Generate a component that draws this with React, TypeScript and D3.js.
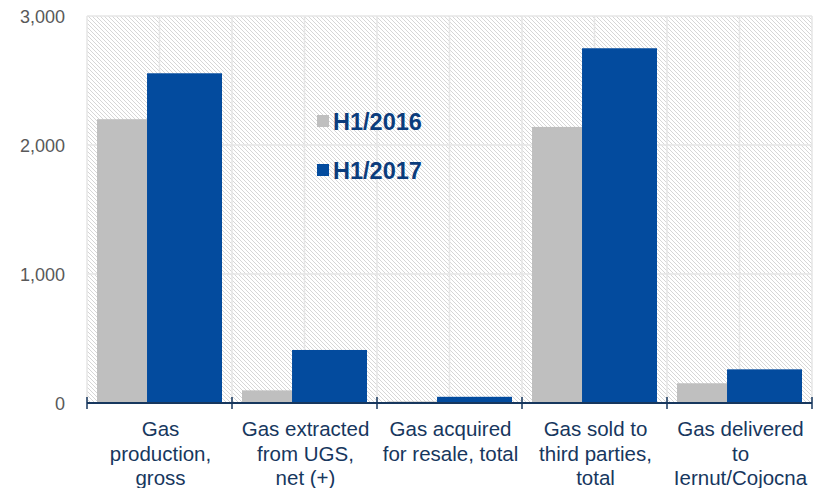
import React, { useEffect, useRef } from "react";
import * as d3 from "d3";

const categories = [
	["Gas", "production,", "gross"],
	["Gas extracted", "from UGS,", "net (+)"],
	["Gas acquired", "for resale, total"],
	["Gas sold to", "third parties,", "total"],
	["Gas delivered", "to", "Iernut/Cojocna"],
];
const h1_2016 = [2200, 98, 12, 2140, 153];
const h1_2017 = [2556, 411, 48, 2750, 261];
const seriesNames = ["H1/2016", "H1/2017"];
const seriesColors = ["#bfbfbf", "#034b9e"];
const yTicks = [0, 1000, 2000, 3000];

export default function App() {
	const ref = useRef<SVGSVGElement>(null);

	useEffect(() => {
		const left = 87;
		const right = 812;
		const top = 16;
		const bottom = 403;
		const font = "Liberation Sans, Arial, sans-serif";

		const svg = d3.select(ref.current);
		svg.selectAll("*").remove();

		// hatch pattern for plot background
		const pat = svg
			.append("defs")
			.append("pattern")
			.attr("id", "hatch")
			.attr("patternUnits", "userSpaceOnUse")
			.attr("width", 4)
			.attr("height", 4);
		pat
			.append("path")
			.attr("d", "M-1,-1 L5,5 M-1,3 L1,5 M3,-1 L5,1")
			.attr("stroke", "#d6d6d6")
			.attr("stroke-width", 1);

		const x = d3
			.scaleBand()
			.domain(categories.map((_, i) => String(i)))
			.range([left, right]);

		const y = d3.scaleLinear().domain([0, 3000]).range([bottom, top]);

		svg
			.append("rect")
			.attr("x", left)
			.attr("y", top)
			.attr("width", right - left)
			.attr("height", bottom - top)
			.attr("fill", "url(#hatch)");

		// gridlines
		svg
			.append("g")
			.selectAll("line")
			.data(yTicks.slice(1))
			.join("line")
			.attr("x1", left)
			.attr("x2", right)
			.attr("y1", d => y(d))
			.attr("y2", d => y(d))
			.attr("stroke", "#e6e6e6")
			.attr("stroke-width", 1.5);

		const vx: number[] = [];
		categories.forEach((_, i) => {
			const x0 = x(String(i))!;
			vx.push(x0, x0 + x.bandwidth() / 2);
		});
		vx.push(right);
		svg
			.append("g")
			.selectAll("line")
			.data(vx)
			.join("line")
			.attr("x1", d => d)
			.attr("x2", d => d)
			.attr("y1", top)
			.attr("y2", bottom)
			.attr("stroke", "#e6e6e6")
			.attr("stroke-width", 1.5);

		// bars (overlapping pairs)
		const bw = x.bandwidth();
		const barW = bw * 0.517;
		const pad = bw * 0.069;
		const step = bw * 0.345;
		[h1_2016, h1_2017].forEach((vals, s) => {
			svg
				.append("g")
				.selectAll("rect")
				.data(vals)
				.join("rect")
				.attr("x", (_, i) => x(String(i))! + pad + s * step)
				.attr("y", d => y(d))
				.attr("width", barW)
				.attr("height", d => bottom - y(d))
				.attr("fill", seriesColors[s]);
		});

		// x axis
		svg
			.append("line")
			.attr("x1", left)
			.attr("x2", right)
			.attr("y1", bottom)
			.attr("y2", bottom)
			.attr("stroke", "#17375e")
			.attr("stroke-width", 2);
		const tx = categories.map((_, i) => x(String(i))!).concat([right]);
		svg
			.append("g")
			.selectAll("line")
			.data(tx)
			.join("line")
			.attr("x1", d => d)
			.attr("x2", d => d)
			.attr("y1", bottom - 6)
			.attr("y2", bottom + 6)
			.attr("stroke", "#17375e")
			.attr("stroke-width", 1.5);

		// category labels
		const labels = svg
			.append("g")
			.attr("font-family", font)
			.attr("font-size", 20.5)
			.attr("fill", "#17375e")
			.attr("text-anchor", "middle");
		categories.forEach((lines, i) => {
			const cx = x(String(i))! + bw / 2 + 1;
			const t = labels.append("text").attr("x", cx);
			lines.forEach((l, j) => {
				t.append("tspan")
					.attr("x", cx)
					.attr("y", 436 + j * 24.5)
					.text(l);
			});
		});

		// y tick labels
		svg
			.append("g")
			.selectAll("text")
			.data(yTicks)
			.join("text")
			.attr("x", 65)
			.attr("y", d => y(d) + 6.5)
			.attr("text-anchor", "end")
			.attr("font-family", font)
			.attr("font-size", 18)
			.attr("fill", "#595959")
			.text(d => d3.format(",")(d));

		// legend
		const legend = svg.append("g");
		seriesNames.forEach((name, i) => {
			const ly = 121 + i * 49;
			legend
				.append("rect")
				.attr("x", 317)
				.attr("y", ly - 6)
				.attr("width", 12)
				.attr("height", 12)
				.attr("fill", seriesColors[i]);
			legend
				.append("text")
				.attr("x", 333)
				.attr("y", ly + 8.5)
				.attr("font-family", font)
				.attr("font-size", 23.5)
				.attr("font-weight", "bold")
				.attr("fill", "#0b3c7c")
				.text(name);
		});
	}, []);

	return (
		<svg
			ref={ref}
			width={813}
			height={488}
			style={{ position: "absolute", left: 0, top: 0 }}
		/>
	);
}
